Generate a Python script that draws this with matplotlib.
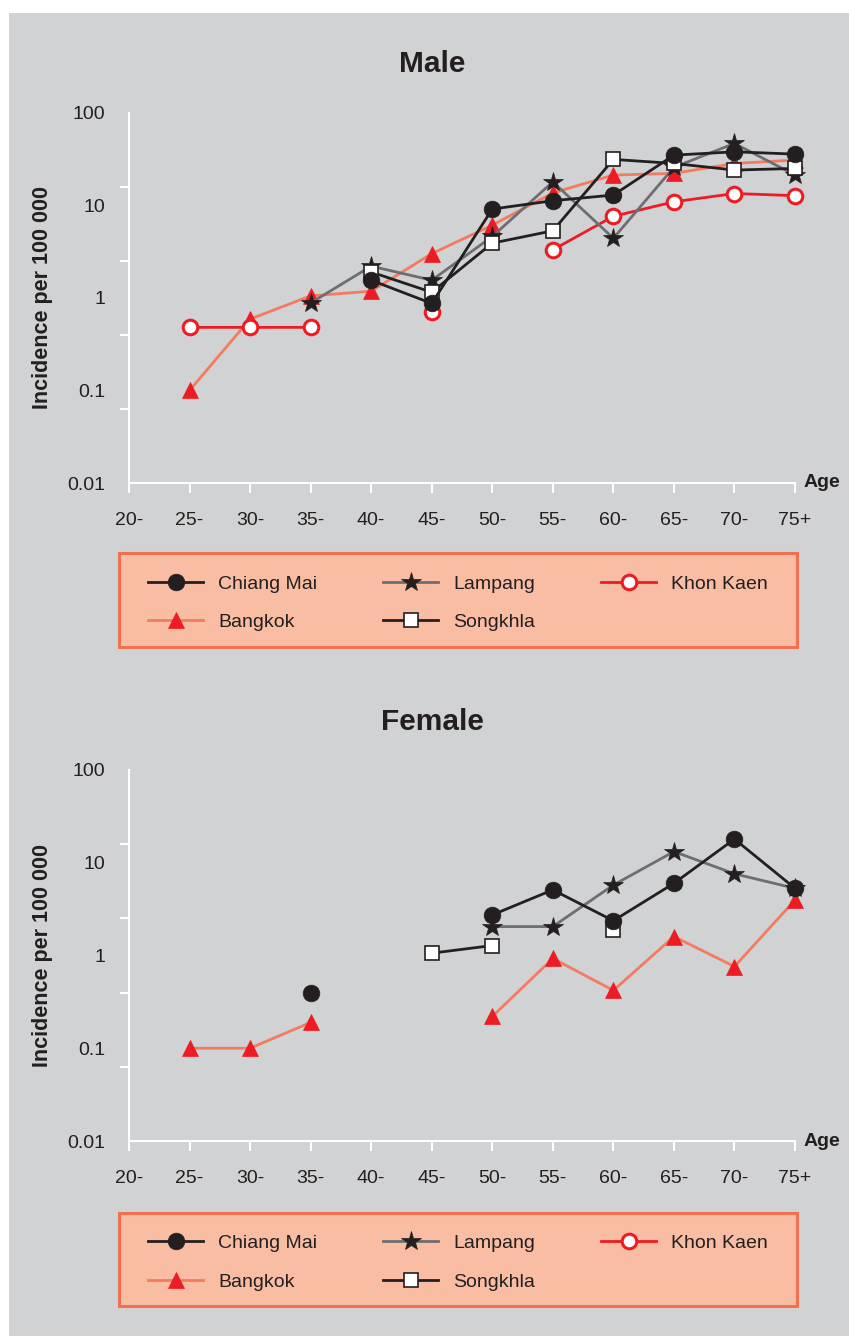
import numpy as np
import matplotlib
matplotlib.use("Agg")
import matplotlib.pyplot as plt
from matplotlib.patches import Rectangle

plt.rcParams['font.family'] = ['Liberation Sans', 'DejaVu Sans']

nan = np.nan
ages = ['20-', '25-', '30-', '35-', '40-', '45-', '50-', '55-', '60-', '65-', '70-', '75+']

# Male incidence per 100 000
chiang_mai_m = [nan, nan, nan, nan, 1.55, 0.87, 9.1, 11.2, 12.9, 34.8, 37.8, 35.7]
lampang_m    = [nan, nan, nan, 0.88, 2.2, 1.55, 4.6, 17.9, 4.4, 25.7, 46.6, 21.2]
khon_kaen_m  = [nan, 0.48, 0.48, 0.48, nan, 0.71, nan, 3.3, 7.6, 10.9, 13.4, 12.7]
bangkok_m    = [nan, 0.10, 0.59, 1.05, 1.18, 3.0, 6.1, 13.6, 21.2, 22.1, 28.3, 30.8]
songkhla_m   = [nan, nan, nan, nan, 1.9, 1.15, 3.9, 5.3, 31.3, 28.3, 24.0, 25.0]

# Female incidence per 100 000
chiang_mai_f = [nan, nan, nan, 0.39, nan, nan, 2.74, 5.1, 2.37, 6.0, 18.0, 5.3]
lampang_f    = [nan, nan, nan, nan, nan, nan, 2.05, 2.05, 5.75, 13.2, 7.6, 5.3]
khon_kaen_f  = [nan] * 12
bangkok_f    = [nan, 0.10, 0.10, 0.19, nan, nan, 0.22, 0.93, 0.42, 1.6, 0.76, 3.96]
songkhla_f   = [nan, nan, nan, nan, nan, 1.06, 1.28, nan, 1.88, nan, nan, nan]

ytick_labels = ['0.01', '0.1', '1', '10', '100']
ytick_values = [0.01, 0.1, 1, 10, 100]

BG = '#D1D2D4'
LEG_FACE = '#F9BDA4'
LEG_EDGE = '#F0704F'
BLACK = '#231F20'
GREY = '#6D6E71'
RED = '#ED1C24'
SALMON = '#F47B5E'

styles = {
    'Bangkok':    dict(color=SALMON, marker='^', ms=11, mfc=RED, mec=RED, mew=0.5, lw=2.0),
    'Khon Kaen':  dict(color=RED, marker='o', ms=10.5, mfc='white', mec=RED, mew=2.2, lw=2.0),
    'Lampang':    dict(color=GREY, marker='*', ms=15, mfc=BLACK, mec=BLACK, mew=0.5, lw=2.0),
    'Songkhla':   dict(color=BLACK, marker='s', ms=10, mfc='white', mec=BLACK, mew=1.2, lw=2.0),
    'Chiang Mai': dict(color=BLACK, marker='o', ms=12, mfc=BLACK, mec=BLACK, mew=0.5, lw=2.0),
}

W, H = 849, 1336
fig = plt.figure(figsize=(W / 100, H / 100), dpi=100)
fig.patch.set_facecolor('white')
fig.add_artist(Rectangle((9 / W, 0), 1 - 9 / W, 1 - 13 / H, transform=fig.transFigure,
                         facecolor=BG, edgecolor='none', zorder=-10))

x = np.arange(len(ages))


def draw_panel(bottom_px, top_px, title, title_y, series, box, leg_cy):
    ax = fig.add_axes([129 / W, 1 - bottom_px / H, 666 / W, (bottom_px - top_px) / H])
    ax.set_facecolor(BG)
    ax.patch.set_alpha(0)
    order = ['Bangkok', 'Khon Kaen', 'Lampang', 'Songkhla', 'Chiang Mai']
    handles = {}
    for i, name in enumerate(order):
        (h,) = ax.plot(x, series[name], label=name, zorder=3 + i, clip_on=False, **styles[name])
        handles[name] = h
    ax.set_yscale('log')
    ax.set_ylim(0.01, 100)
    ax.set_xlim(0, 11)
    for s in ['top', 'right']:
        ax.spines[s].set_visible(False)
    for s in ['left', 'bottom']:
        ax.spines[s].set_color('white')
        ax.spines[s].set_linewidth(1.5)
    ax.set_yticks(ytick_values)
    ax.set_yticklabels(ytick_labels)
    ax.set_yticks(10.0 ** (-2 + 0.8 * np.arange(6)), minor=True)
    ax.yaxis.set_minor_formatter(plt.NullFormatter())
    ax.tick_params(axis='y', which='major', length=0, pad=17, labelsize=14, labelcolor=BLACK)
    ax.tick_params(axis='y', which='minor', length=6.5, width=1.5, color='white', direction='out')
    ax.set_xticks(x)
    ax.set_xticklabels(ages)
    ax.tick_params(axis='x', which='major', length=7, width=1.5, color='white', pad=14,
                   labelsize=14, labelcolor=BLACK)
    ax.set_ylabel('Incidence per 100 000', fontsize=15.5, fontweight='bold', color=BLACK)
    ax.yaxis.set_label_coords(-0.114, 0.5)
    ax.text(1.0135, 0.0, 'Age', transform=ax.transAxes, fontsize=14, fontweight='bold',
            color=BLACK, ha='left', va='center')
    fig.text(432 / W, 1 - title_y / H, title, fontsize=21.5, fontweight='bold', color=BLACK,
             ha='center', va='center')

    bx0, by0, bx1, by1 = box
    fig.add_artist(Rectangle((bx0 / W, 1 - by1 / H), (bx1 - bx0) / W, (by1 - by0) / H,
                             transform=fig.transFigure, facecolor=LEG_FACE, edgecolor=LEG_EDGE,
                             linewidth=2.2, zorder=1))
    leg_order = ['Chiang Mai', 'Bangkok', 'Lampang', 'Songkhla', 'Khon Kaen']
    leg = fig.legend([handles[n] for n in leg_order], leg_order, ncol=3, mode='expand',
                     bbox_to_anchor=(148 / W, 1 - leg_cy / H, (768 - 148) / W, 0),
                     loc='center', fontsize=14, handlelength=2.83, handletextpad=0.77,
                     labelspacing=1.08, borderpad=0, borderaxespad=0, frameon=False,
                     columnspacing=1.0)
    leg.set_zorder(2)
    for t in leg.get_texts():
        t.set_color(BLACK)
    return ax


male = {'Chiang Mai': chiang_mai_m, 'Lampang': lampang_m, 'Khon Kaen': khon_kaen_m,
        'Bangkok': bangkok_m, 'Songkhla': songkhla_m}
female = {'Chiang Mai': chiang_mai_f, 'Lampang': lampang_f, 'Khon Kaen': khon_kaen_f,
          'Bangkok': bangkok_f, 'Songkhla': songkhla_f}

draw_panel(483, 112.7, 'Male', 64.5, male, (119, 553, 797, 647), 603)
draw_panel(1141, 770, 'Female', 721.5, female, (119, 1213, 797, 1306), 1262.5)

fig.savefig('out.png', dpi=100, facecolor='white')
